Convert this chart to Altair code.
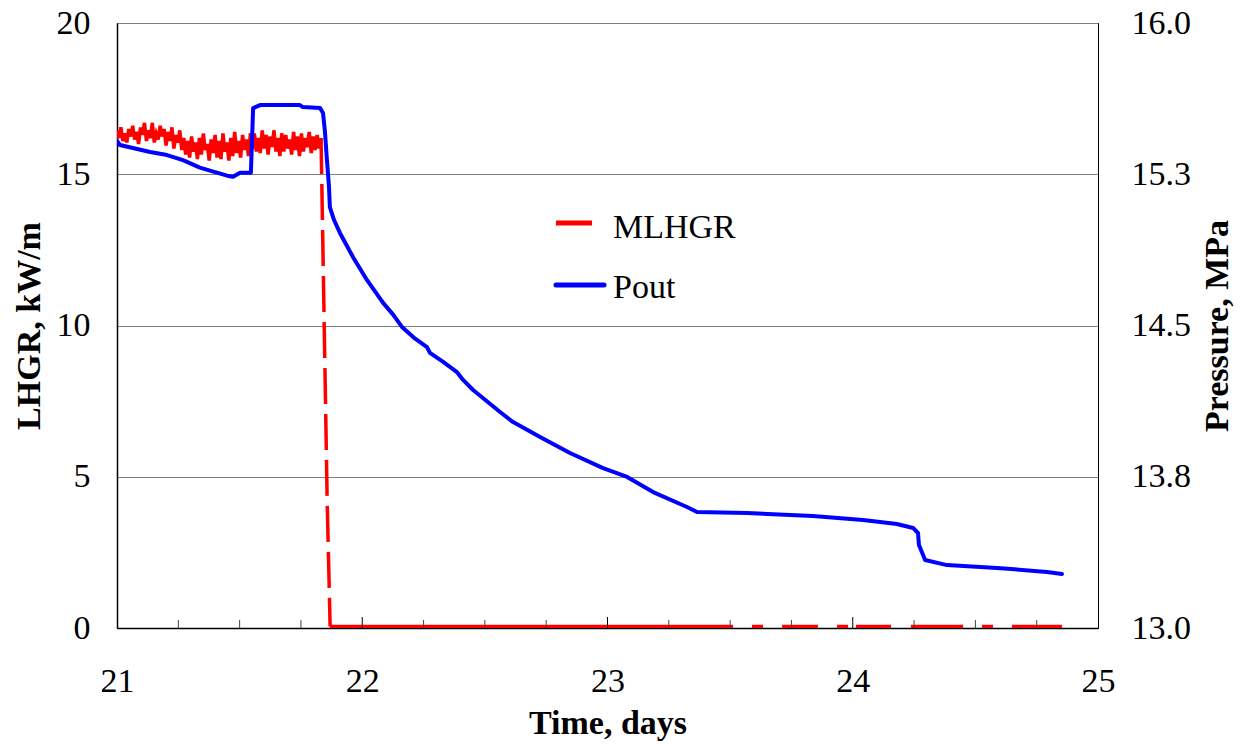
import altair as alt
import pandas as pd

# ---------------- data ----------------
# MLHGR (kW/m), noisy plateau, samples every 0.008 day starting at day 21.000
MLHGR_T0 = 21.0
MLHGR_DT = 0.008
mlhgr_noisy = [
    16.45, 16.20, 16.55, 16.10, 16.35, 16.05, 16.50, 16.25, 16.60, 16.15,
    16.40, 16.00, 16.55, 16.30, 16.70, 16.10, 16.45, 16.20, 16.70, 16.05,
    16.35, 16.15, 16.60, 16.25, 16.50, 15.95, 16.40, 16.10, 16.55, 15.85,
    16.30, 16.05, 16.45, 15.80,
    16.20, 15.65, 16.10, 15.55, 16.25, 15.75, 16.05, 15.50, 16.20, 15.65,
    16.35, 15.80, 16.00, 15.45, 16.15, 15.70, 16.30, 15.55, 16.10, 15.50,
    16.35, 15.75, 16.05, 15.45, 16.20, 15.60, 16.40, 15.70, 16.10, 15.55,
    16.30, 15.80, 16.15, 15.60, 16.35,
    15.85, 16.35, 15.75, 16.20, 15.70, 16.45, 15.85, 16.30, 15.65, 16.25,
    15.90, 16.45, 15.75, 16.20, 15.60, 16.35, 15.75, 16.30, 15.85, 16.15,
    15.65, 16.40, 15.80, 16.25, 15.60, 16.35, 15.75, 16.20, 15.90, 16.40,
    15.70, 16.25, 15.80, 16.30, 15.85, 16.20,
]
# scram drop of MLHGR
drop_t = [21.832, 21.857, 21.869]
drop_v = [16.20, 4.20, 0.05]
# MLHGR ~ 0 after scram: visible pieces (start day, end day)
zero_start = [21.868, 23.589, 23.712, 23.936, 24.013, 24.237, 24.527, 24.649]
zero_end = [23.512, 23.634, 23.858, 23.981, 24.156, 24.450, 24.572, 24.853]
ZERO_LEVEL = 0.05

# Pout (MPa)
pout_t = [21.000, 21.012, 21.065, 21.135, 21.204, 21.269, 21.338, 21.379,
          21.449, 21.473, 21.502, 21.546, 21.555, 21.583, 21.746, 21.758,
          21.828, 21.840, 21.848, 21.856, 21.864, 21.868, 21.885, 21.909,
          21.962, 22.019, 22.085, 22.125, 22.162, 22.210, 22.264, 22.276,
          22.330, 22.386, 22.411, 22.452, 22.562, 22.615, 22.725, 22.847,
          22.982, 23.080, 23.186, 23.324, 23.365, 23.569, 23.838, 24.042,
          24.180, 24.246, 24.266, 24.270, 24.295, 24.384, 24.588, 24.792,
          24.853]
pout_v = [15.415, 15.395, 15.380, 15.360, 15.345, 15.320, 15.283, 15.268,
          15.243, 15.238, 15.258, 15.258, 15.578, 15.593, 15.593, 15.583,
          15.578, 15.554, 15.460, 15.320, 15.196, 15.087, 15.023, 14.959,
          14.840, 14.726, 14.612, 14.555, 14.493, 14.440, 14.393, 14.364,
          14.320, 14.269, 14.230, 14.180, 14.071, 14.021, 13.947, 13.868,
          13.793, 13.749, 13.674, 13.600, 13.575, 13.570, 13.555, 13.536,
          13.516, 13.496, 13.471, 13.412, 13.337, 13.312, 13.298, 13.278,
          13.268]

x_major = [21, 22, 23, 24, 25]
x_minor = [21.25, 21.5, 21.75, 22.25, 22.5, 22.75, 23.25, 23.5, 23.75,
           24.25, 24.5, 24.75]
x_major_inner = [22, 23, 24]
left_ticks = [0, 5, 10, 15, 20]
right_ticks = [13.0, 13.75, 14.5, 15.25, 16.0]

# ---------------- build tables ----------------
rows = []
for i, v in enumerate(mlhgr_noisy):
    rows.append({"t": round(MLHGR_T0 + i * MLHGR_DT, 3), "v": v, "seg": "noisy", "style": "solid"})
for t, v in zip(drop_t, drop_v):
    rows.append({"t": t, "v": v, "seg": "drop", "style": "dash"})
for k, (a, b) in enumerate(zip(zero_start, zero_end)):
    rows.append({"t": a, "v": ZERO_LEVEL, "seg": f"z{k}", "style": "solid"})
    rows.append({"t": b, "v": ZERO_LEVEL, "seg": f"z{k}", "style": "solid"})
red_df = pd.DataFrame(rows)
blue_df = pd.DataFrame({"t": pout_t, "p": pout_v})

W, H = 981, 605
FONT = "Liberation Serif"

x_scale = alt.Scale(domain=[21, 25], nice=False, zero=False)
x_axis = alt.Axis(values=x_major, format="d", ticks=False, grid=False,
                  labelFlush=False, labelPadding=36, labelFontSize=34,
                  labelFont=FONT, labelColor="black",
                  title="Time, days", titleFont=FONT, titleColor="black",
                  titleFontSize=34, titleFontWeight="bold",
                  titlePadding=8, domainColor="black", domainWidth=1.5)

red = alt.Chart(red_df).mark_line(color="#ff0000", strokeWidth=3.5, clip=True).encode(
    x=alt.X("t:Q", scale=x_scale, axis=x_axis),
    y=alt.Y("v:Q", scale=alt.Scale(domain=[0, 20], nice=False, zero=False),
            axis=alt.Axis(orient="left", values=left_ticks, format="d", ticks=False,
                          grid=True, gridColor="#808080", gridWidth=1,
                          labelPadding=27, labelFontSize=34,
                          labelFont=FONT, labelColor="black",
                          title="LHGR, kW/m", titleFont=FONT, titleColor="black",
                          titleFontSize=34, titleFontWeight="bold",
                          titlePadding=10, domainColor="black", domainWidth=1.5)),
    detail="seg:N",
    strokeDash=alt.StrokeDash("style:N",
                              scale=alt.Scale(domain=["solid", "dash"], range=[[1, 0], [36, 10]]),
                              legend=None),
)

blue = alt.Chart(blue_df).mark_line(color="#0000ff", strokeWidth=4, strokeCap="round",
                                    strokeJoin="round", clip=True).encode(
    x=alt.X("t:Q", scale=x_scale),
    y=alt.Y("p:Q", scale=alt.Scale(domain=[13, 16], nice=False, zero=False),
            axis=alt.Axis(orient="right", values=right_ticks, format=".1f", ticks=False,
                          grid=False, labelPadding=33, labelFontSize=34,
                          labelFont=FONT, labelColor="black",
                          title="Pressure, MPa", titleFont=FONT, titleColor="black",
                          titleFontSize=34, titleFontWeight="bold",
                          titleAngle=270, titleBaseline="top", titlePadding=10,
                          domainColor="black", domainWidth=1)),
)

minor_df = pd.DataFrame({"t": x_minor})
major_df = pd.DataFrame({"t": x_major_inner})
minor_ticks = alt.Chart(minor_df).mark_rule(color="#404040", strokeWidth=1).encode(
    x=alt.X("t:Q", scale=x_scale), y=alt.value(H - 8), y2=alt.value(H))
major_ticks = alt.Chart(major_df).mark_rule(color="black", strokeWidth=1).encode(
    x=alt.X("t:Q", scale=x_scale), y=alt.value(H - 11), y2=alt.value(H))

leg_df = pd.DataFrame({"name": ["MLHGR", "Pout"]})
leg_red = alt.Chart(leg_df).transform_filter("datum.name == 'MLHGR'").mark_rule(
    color="#ff0000", strokeWidth=5).encode(
    x=alt.value(439), x2=alt.value(475), y=alt.value(200))
leg_blue = alt.Chart(leg_df).transform_filter("datum.name == 'Pout'").mark_rule(
    color="#0000ff", strokeWidth=5, strokeCap="round").encode(
    x=alt.value(439), x2=alt.value(487), y=alt.value(262))
leg_txt1 = alt.Chart(leg_df).transform_filter("datum.name == 'MLHGR'").mark_text(
    align="left", baseline="alphabetic", font=FONT, fontSize=34, color="black").encode(
    x=alt.value(496), y=alt.value(215), text="name:N")
leg_txt2 = alt.Chart(leg_df).transform_filter("datum.name == 'Pout'").mark_text(
    align="left", baseline="alphabetic", font=FONT, fontSize=34, color="black").encode(
    x=alt.value(496), y=alt.value(275), text="name:N")

chart = alt.layer(red, blue, minor_ticks, major_ticks, leg_red, leg_blue, leg_txt1, leg_txt2).resolve_scale(
    y="independent"
).properties(
    width=W, height=H,
    autosize=alt.AutoSizeParams(type="none"),
    padding={"left": 109, "top": 15, "right": 136, "bottom": 115},
    background="white",
).configure_view(
    stroke="black", strokeWidth=1
)

chart.save("out.html", embed_options={"renderer": "svg", "actions": False})
